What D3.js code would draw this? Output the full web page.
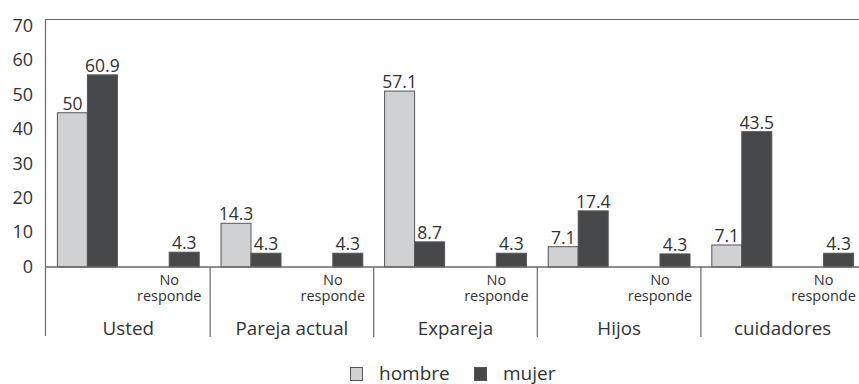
<!DOCTYPE html>
<html><head><meta charset="utf-8">
<script src="https://cdn.jsdelivr.net/npm/d3@7"></script>
<style>body{margin:0;background:#fff}svg{display:block}text{font-family:"Open Sans",sans-serif;fill:#333}</style>
</head><body><svg id="c" width="859" height="384"></svg>
<script>
const groups = ["Usted","Pareja actual","Expareja","Hijos","cuidadores"];
const subs = ["", "No responde"];
const series = ["hombre","mujer"];
// bar heights as drawn (read against the axis)
const hombreMain = [44.8, 12.7, 51.1, 5.9, 6.4];
const mujerMain  = [55.8, 4.0, 7.3, 16.3, 39.3];
const mujerNR    = [4.3, 4.0, 4.0, 3.8, 4.0];
// printed value labels
const hombreLabel = ["50","14.3","57.1","7.1","7.1"];
const mujerLabel  = ["60.9","4.3","8.7","17.4","43.5"];
const nrLabel     = ["4.3","4.3","4.3","4.3","4.3"];
const yTicks = [0,10,20,30,40,50,60,70];
const colors = {hombre:"#d0d1d3", mujer:"#47484a"};

const svg = d3.select("#c");
const y = d3.scaleLinear().domain([0,70]).range([267,26]);
const x0 = d3.scaleBand().domain(groups).range([46.5,864.5]).padding(0);
const x1 = d3.scaleBand().domain(subs).range([0,x0.bandwidth()]).padding(0);
const x2 = d3.scaleBand().domain(series).range([x1.bandwidth()/2-30, x1.bandwidth()/2+30]).padding(0);

// bars
const bars = [];
groups.forEach((g,i)=>{
  bars.push({g, s:"", k:"hombre", v:hombreMain[i], lab:hombreLabel[i]});
  bars.push({g, s:"", k:"mujer", v:mujerMain[i], lab:mujerLabel[i]});
  bars.push({g, s:"No responde", k:"mujer", v:mujerNR[i], lab:nrLabel[i]});
});
const bx = d => x0(d.g)+x1(d.s)+x2(d.k);
svg.append("g").selectAll("rect").data(bars).join("rect")
  .attr("x", bx).attr("width", x2.bandwidth())
  .attr("y", d=>y(d.v)).attr("height", d=>y(0)-y(d.v))
  .attr("fill", d=>colors[d.k]).attr("stroke", "#555").attr("stroke-width",1);
svg.append("g").selectAll("text").data(bars).join("text")
  .attr("x", d=>bx(d)+x2.bandwidth()/2).attr("y", d=>y(d.v)-3)
  .attr("text-anchor","middle").attr("font-size",17.5).text(d=>d.lab);

// frame & axes
const axisColor = "#6a6a6a";
svg.append("line").attr("x1",45).attr("x2",859).attr("y1",19.5).attr("y2",19.5).attr("stroke",axisColor);
svg.append("line").attr("x1",45).attr("x2",859).attr("y1",y(0)).attr("y2",y(0)).attr("stroke",axisColor).attr("stroke-width",1.3);
svg.append("line").attr("x1",45.5).attr("x2",45.5).attr("y1",19).attr("y2",336).attr("stroke",axisColor).attr("stroke-width",1.2);
svg.append("g").selectAll("line").data(groups.slice(1)).join("line")
  .attr("x1",d=>x0(d)).attr("x2",d=>x0(d)).attr("y1",y(0)).attr("y2",337)
  .attr("stroke",axisColor).attr("stroke-width",1.2);

// y tick labels
const yAxis = d3.axisLeft(y).tickValues(yTicks).tickSize(0).tickPadding(12);
const ya = svg.append("g").attr("transform","translate(45,0)").call(yAxis);
ya.select(".domain").remove();
ya.selectAll("text").attr("font-size",18).attr("font-family","Open Sans").attr("fill","#333").attr("dy","0.3em");

// sub labels (two lines in one text)
groups.forEach(g=>{
  const cx = x0(g)+x1("No responde")+x1.bandwidth()/2;
  const t = svg.append("text").attr("x",cx).attr("y",284.5).attr("text-anchor","middle").attr("font-size",14.5);
  t.append("tspan").attr("x",cx).attr("y",284.5).text("No");
  t.append("tspan").attr("x",cx).attr("y",300.5).text("responde");
});
// group labels
svg.append("g").selectAll("text").data(groups).join("text")
  .attr("x",d=>x0(d)+x0.bandwidth()/2).attr("y",335).attr("text-anchor","middle")
  .attr("font-size",18.8).text(d=>d);

// legend
const legX = [350, 474];
series.forEach((s,i)=>{
  svg.append("rect").attr("x",legX[i]+0.5).attr("y",367.5).attr("width",12).attr("height",13)
    .attr("fill",colors[s]).attr("stroke","#555");
  svg.append("text").attr("x",legX[i]+29).attr("y",379.5).attr("font-size",19).text(s);
});
</script></body></html>
